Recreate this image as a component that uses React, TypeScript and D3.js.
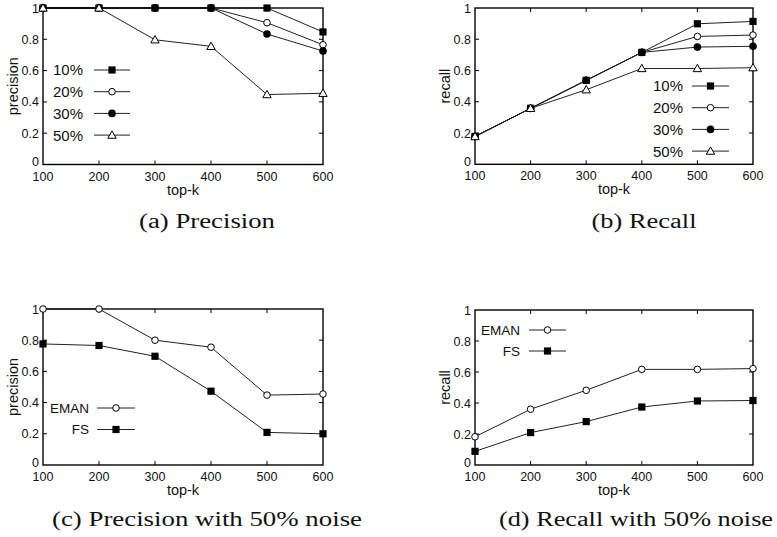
import React from "react";
import * as d3 from "d3";

// ---------- data ----------
const topK = [100, 200, 300, 400, 500, 600];
const yTicks = [0, 0.2, 0.4, 0.6, 0.8, 1];
const yTickLabels = ["0", "0.2", "0.4", "0.6", "0.8", "1"];

const precision10 = [1, 1, 1, 1, 1, 0.847];
const precision20 = [1, 1, 1, 1, 0.906, 0.765];
const precision30 = [1, 1, 1, 1, 0.834, 0.725];
const precision50 = [1, 1, 0.797, 0.755, 0.447, 0.455];

const recall10 = [0.178, 0.358, 0.537, 0.716, 0.899, 0.914];
const recall20 = [0.178, 0.358, 0.537, 0.716, 0.818, 0.827];
const recall30 = [0.178, 0.358, 0.537, 0.716, 0.75, 0.755];
const recall50 = [0.178, 0.358, 0.477, 0.613, 0.613, 0.618];

const noisePrecisionEMAN = [1, 1, 0.8, 0.755, 0.448, 0.455];
const noisePrecisionFS = [0.776, 0.766, 0.697, 0.473, 0.209, 0.2];
const noiseRecallEMAN = [0.182, 0.36, 0.482, 0.617, 0.617, 0.622];
const noiseRecallFS = [0.088, 0.209, 0.28, 0.374, 0.413, 0.416];

const noiseLabels = ["10%", "20%", "30%", "50%"];
const methodLabels = ["EMAN", "FS"];
const captions = [
  "(a) Precision",
  "(b) Recall",
  "(c) Precision with 50% noise",
  "(d) Recall with 50% noise",
];
const yTitles = ["precision", "recall", "precision", "recall"];
const xTitle = "top-k";

type Marker = "sq" | "oc" | "fc" | "tri";

const SANS = "'Liberation Sans', Arial, sans-serif";
const SERIF = "'Liberation Serif', 'Times New Roman', serif";
const LINE = "#222";

function MarkerShape({ type, x, y }: { type: Marker; x: number; y: number }) {
  if (type === "sq")
    return <rect x={x - 3.6} y={y - 3.6} width={7.2} height={7.2} fill="#000" />;
  if (type === "oc")
    return <circle cx={x} cy={y} r={3.3} fill="#fff" stroke="#000" strokeWidth={1} />;
  if (type === "fc") return <circle cx={x} cy={y} r={3.8} fill="#000" />;
  const s = 4.2;
  return (
    <path
      d={`M${x},${y - s}L${x + s},${y + s * 0.75}L${x - s},${y + s * 0.75}Z`}
      fill="#fff"
      stroke="#000"
      strokeWidth={1}
    />
  );
}

interface Series {
  label: string;
  values: number[];
  marker: Marker;
}

interface PanelProps {
  x0: number;
  x1: number;
  y0: number;
  y1: number;
  series: Series[];
  yTitle: string;
  caption: string;
  captionX: number;
  captionY: number;
  captionW: number;
  legTextRight: number;
  legLine0: number;
  legLine1: number;
  legY0: number;
  legStep: number;
  legFont: number;
}

function Panel(p: PanelProps) {
  const x = d3.scaleLinear().domain([100, 600]).range([p.x0, p.x1]);
  const y = d3.scaleLinear().domain([0, 1]).range([p.y1, p.y0]);
  const line = d3
    .line<number>()
    .x((_, i) => x(topK[i]))
    .y((v) => y(v));
  const tl = 4;
  return (
    <g>
      {p.series.map((s, si) => (
        <path key={"l" + si} d={line(s.values) || ""} fill="none" stroke={LINE} strokeWidth={1} />
      ))}
      <rect
        x={p.x0}
        y={p.y0}
        width={p.x1 - p.x0}
        height={p.y1 - p.y0}
        fill="none"
        stroke="#000"
        strokeWidth={1.4}
      />
      {topK.slice(1, -1).map((k) => (
        <g key={"xt" + k}>
          <line x1={x(k)} x2={x(k)} y1={p.y1} y2={p.y1 - tl} stroke="#000" strokeWidth={1} />
          <line x1={x(k)} x2={x(k)} y1={p.y0} y2={p.y0 + tl} stroke="#000" strokeWidth={1} />
        </g>
      ))}
      {yTicks.slice(1, -1).map((v) => (
        <g key={"yt" + v}>
          <line x1={p.x0} x2={p.x0 + tl} y1={y(v)} y2={y(v)} stroke="#000" strokeWidth={1} />
          <line x1={p.x1} x2={p.x1 - tl} y1={y(v)} y2={y(v)} stroke="#000" strokeWidth={1} />
        </g>
      ))}
      {topK.map((k) => (
        <text
          key={"xl" + k}
          x={x(k)}
          y={p.y1 + 16}
          textAnchor="middle"
          fontFamily={SANS}
          fontSize={12.5}
          fill="#111"
        >
          {k}
        </text>
      ))}
      {yTicks.map((v, i) => (
        <text
          key={"yl" + v}
          x={p.x0 - 4}
          y={y(v) + (i === 0 ? 1.5 : 4.5)}
          textAnchor="end"
          fontFamily={SANS}
          fontSize={12.5}
          fill="#111"
        >
          {yTickLabels[i]}
        </text>
      ))}
      <text
        x={(p.x0 + p.x1) / 2}
        y={p.y1 + 30}
        textAnchor="middle"
        fontFamily={SANS}
        fontSize={14.5}
        fill="#111"
      >
        {xTitle}
      </text>
      <text
        transform={`translate(${p.x0 - 25},${(p.y0 + p.y1) / 2}) rotate(-90)`}
        textAnchor="middle"
        fontFamily={SANS}
        fontSize={14.5}
        fill="#111"
      >
        {p.yTitle}
      </text>
      {p.series.map((s, si) =>
        s.values.map((v, i) => (
          <MarkerShape key={"m" + si + "-" + i} type={s.marker} x={x(topK[i])} y={y(v)} />
        ))
      )}
      {p.series.map((s, si) => {
        const ly = p.legY0 + si * p.legStep;
        return (
          <g key={"lg" + si}>
            <text
              x={p.legTextRight}
              y={ly + p.legFont * 0.36}
              textAnchor="end"
              fontFamily={SANS}
              fontSize={p.legFont}
              fill="#111"
            >
              {s.label}
            </text>
            <line x1={p.legLine0} x2={p.legLine1} y1={ly} y2={ly} stroke={LINE} strokeWidth={1} />
            <MarkerShape type={s.marker} x={(p.legLine0 + p.legLine1) / 2} y={ly} />
          </g>
        );
      })}
      <text
        x={p.captionX}
        y={p.captionY}
        textAnchor="middle"
        fontFamily={SERIF}
        fontSize={20}
        textLength={p.captionW}
        lengthAdjust="spacingAndGlyphs"
        fill="#111"
      >
        {p.caption}
      </text>
    </g>
  );
}

export default function App() {
  const markers: Marker[] = ["sq", "oc", "fc", "tri"];
  const precSeries: Series[] = [precision10, precision20, precision30, precision50].map((v, i) => ({
    label: noiseLabels[i],
    values: v,
    marker: markers[i],
  }));
  const recSeries: Series[] = [recall10, recall20, recall30, recall50].map((v, i) => ({
    label: noiseLabels[i],
    values: v,
    marker: markers[i],
  }));
  const nPrec: Series[] = [
    { label: methodLabels[0], values: noisePrecisionEMAN, marker: "oc" },
    { label: methodLabels[1], values: noisePrecisionFS, marker: "sq" },
  ];
  const nRec: Series[] = [
    { label: methodLabels[0], values: noiseRecallEMAN, marker: "oc" },
    { label: methodLabels[1], values: noiseRecallFS, marker: "sq" },
  ];
  return (
    <svg
      width={777}
      height={537}
      style={{ position: "fixed", left: 0, top: 0, background: "#fff" }}
    >
      <rect width={777} height={537} fill="#fff" />
      <Panel
        x0={43} x1={323} y0={8} y1={164.5}
        series={precSeries} yTitle={yTitles[0]}
        caption={captions[0]} captionX={207} captionY={228} captionW={136}
        legTextRight={83} legLine0={94} legLine1={130} legY0={70} legStep={21.7} legFont={15}
      />
      <Panel
        x0={475} x1={753} y0={8} y1={164.3}
        series={recSeries} yTitle={yTitles[1]}
        caption={captions[1]} captionX={644} captionY={228} captionW={105}
        legTextRight={683} legLine0={692} legLine1={729} legY0={86} legStep={21.7} legFont={15}
      />
      <Panel
        x0={43} x1={323} y0={309} y1={465}
        series={nPrec} yTitle={yTitles[2]}
        caption={captions[2]} captionX={207} captionY={526} captionW={310}
        legTextRight={89} legLine0={97} legLine1={135} legY0={408} legStep={21.5} legFont={13.5}
      />
      <Panel
        x0={475} x1={753} y0={310} y1={465}
        series={nRec} yTitle={yTitles[3]}
        caption={captions[3]} captionX={636} captionY={526} captionW={274}
        legTextRight={520} legLine0={529} legLine1={566} legY0={330} legStep={21} legFont={13.5}
      />
    </svg>
  );
}
